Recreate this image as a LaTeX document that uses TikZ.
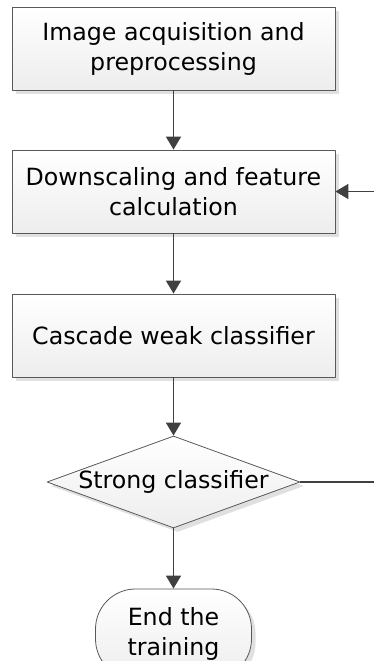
\documentclass[tikz,border=0pt]{standalone}
\usepackage{fontspec}
\setmainfont{DejaVu Sans}
\usetikzlibrary{shapes.geometric,shadows,arrows.meta}
\begin{document}
\begin{tikzpicture}[x=1pt,y=1pt, font=\fontsize{23.7}{30}\selectfont, line join=round,
	>={Triangle[width=15pt,length=13pt]},
	shade/.style={draw=black!65, line width=0.8pt, top color=white, bottom color=black!7,
		drop shadow={shadow xshift=4pt, shadow yshift=-4pt, fill=black!12, opacity=1}},
	box/.style={shade, minimum width=323pt, minimum height=83pt, align=center, inner sep=0pt},
	decision/.style={shade, diamond, minimum width=253pt, minimum height=92pt, inner sep=0pt},
	term/.style={shade, rounded corners=40pt, minimum width=156pt, minimum height=90pt, align=center, inner sep=0pt},
	flow/.style={->, draw=black!75, line width=1.5pt}]
		\def \cx{173.5}
		\clip (0,0) rectangle (374,-661);
		\node[box] (acq) at (\cx,-48.5) {Image acquisition and\\preprocessing};
		\node[box] (down) at (\cx,-191.5) {Downscaling and feature\\calculation};
		\node[box] (casc) at (\cx,-335.5) {Cascade weak classifier};
		\node[decision] (strong) at (\cx,-482) {\makebox[0pt]{Strong classifier}};
		\node[term] (end) at (\cx,-634) {End the\\training};
		\coordinate (back) at (380,-191.5);
		\coordinate (loop) at (380,-482);
		\draw[flow] (acq) -- (down);
		\draw[flow] (down) -- (casc);
		\draw[flow] (casc) -- (strong);
		\draw[flow] (strong) -- (end);
		\draw[flow,-] (strong.east) -- (loop);
		\draw[flow] (back) -- (down.east);
\end{tikzpicture}
\end{document}
